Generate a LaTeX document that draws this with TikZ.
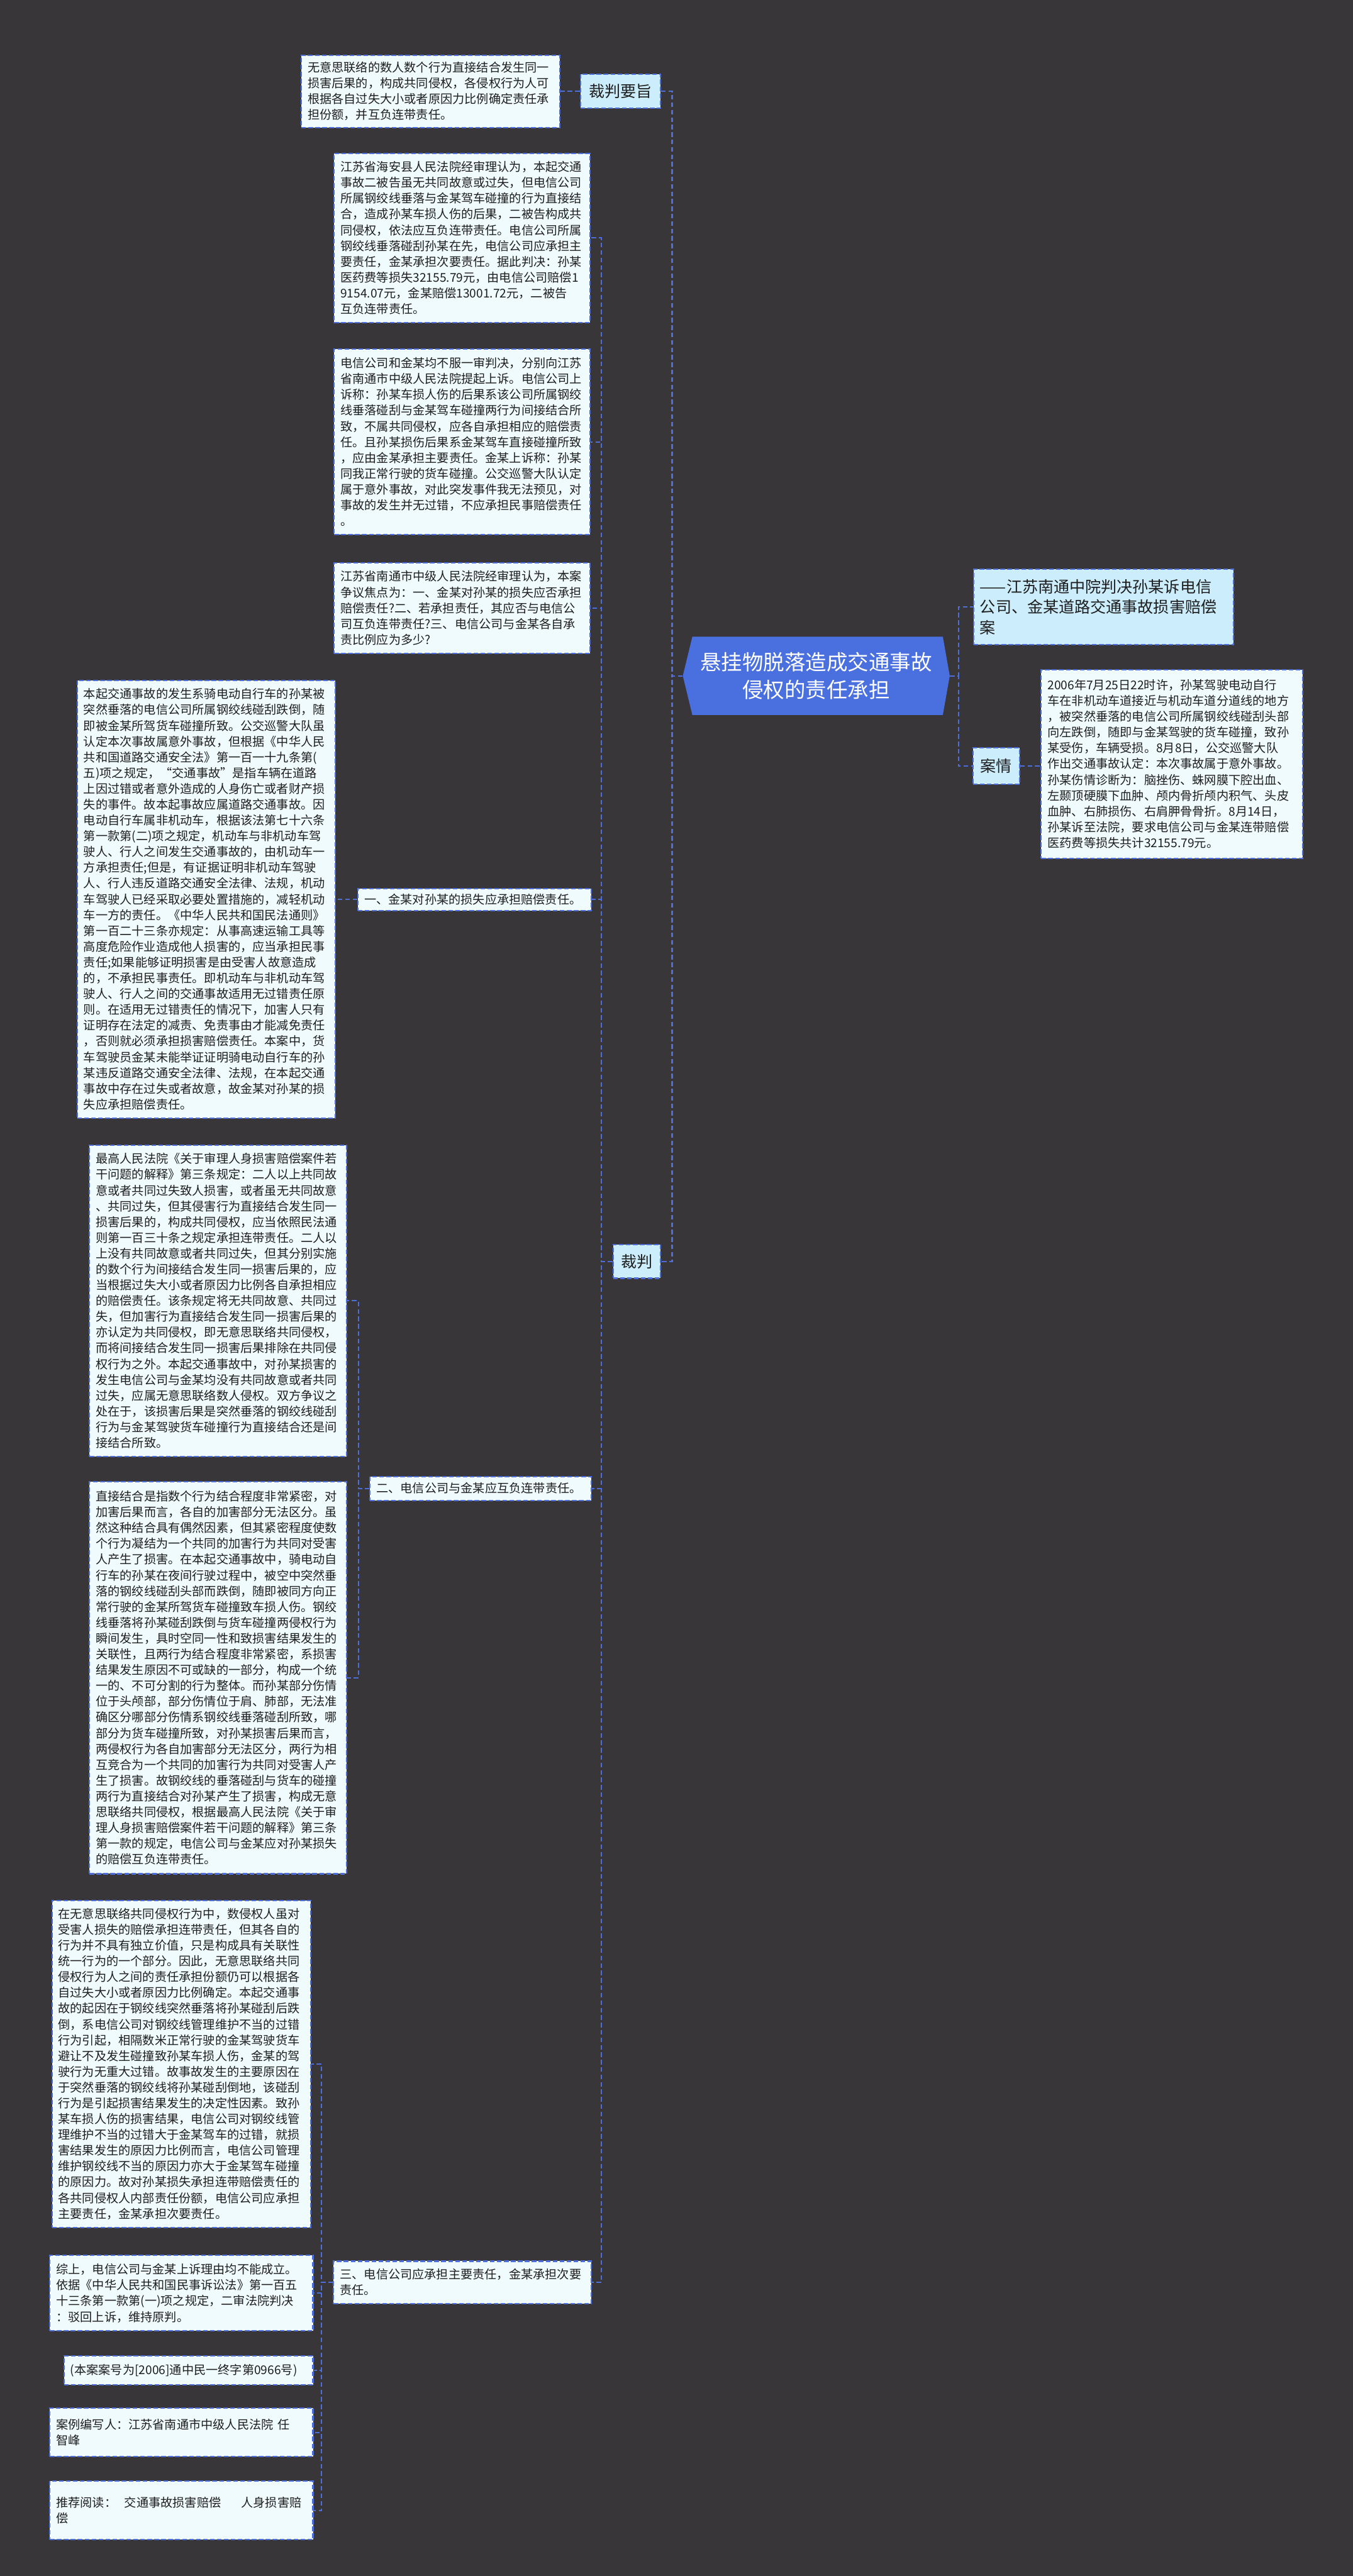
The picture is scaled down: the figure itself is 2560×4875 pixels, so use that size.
\documentclass[tikz,border=0pt]{standalone}
\usepackage{fontspec}
\setmainfont{Noto Sans CJK SC}
\definecolor{bgc}{RGB}{56,54,56}
\definecolor{lnc}{RGB}{78,110,218}
\definecolor{bxf}{RGB}{240,251,253}
\definecolor{lbf}{RGB}{204,237,252}
\definecolor{ctf}{RGB}{74,111,222}
\definecolor{txc}{RGB}{30,30,30}
\tikzset{
  tb/.style={draw=lnc, fill=bxf, line width=1.4pt, dash pattern=on 5pt off 2.5pt,
    inner xsep=0.24cm, inner ysep=0.1cm, align=left, anchor=north west,
    font=\fontsize{13pt}{17pt}\selectfont, text=txc},
  lb/.style={draw=lnc, fill=lbf, line width=1.4pt, dash pattern=on 5pt off 2.5pt,
    inner sep=0pt, font=\fontsize{17pt}{22pt}\selectfont, text=txc},
  conn/.style={draw=lnc, line width=1.4pt, dash pattern=on 5pt off 3pt}
}
\begin{document}
\begin{tikzpicture}[x=0.02cm,y=-0.02cm]
\useasboundingbox (0,0) rectangle (2560,4875);
\fill[bgc] (0,0) rectangle (2560,4875);

% central topic
\fill[ctf] (1292,1279) -- (1310,1205) -- (1784,1205) -- (1797,1279) -- (1784,1353) -- (1310,1353) -- cycle;
\node[minimum width=10.1cm, minimum height=2.96cm, inner sep=0pt, align=center, text=white,
  font=\fontsize{22.7pt}{29.5pt}\selectfont] (ct) at (1544.5,1279) {悬挂物脱落造成交通事故\\侵权的责任承担};

% right side
\node[lb, anchor=north west, align=left, text width=9.36cm, inner xsep=0.24cm, minimum height=2.86cm] (sub) at (1841,1076)
 {——江苏南通中院判决孙某诉电信\\公司、金某道路交通事故损害赔偿\\案};
\node[lb, minimum width=1.76cm, minimum height=1.38cm] (aq) at (1885,1450) {案情};
\node[tb, text width=9.42cm, minimum height=7.14cm] (cs) at (1969,1266)
 {2006年7月25日22时许，孙某驾驶电动自行\\车在非机动车道接近与机动车道分道线的地方\\，被突然垂落的电信公司所属钢绞线碰刮头部\\向左跌倒，随即与金某驾驶的货车碰撞，致孙\\某受伤，车辆受损。8月8日，公交巡警大队\\作出交通事故认定：本次事故属于意外事故。\\孙某伤情诊断为：脑挫伤、蛛网膜下腔出血、\\左颞顶硬膜下血肿、颅内骨折颅内积气、头皮\\血肿、右肺损伤、右肩胛骨骨折。8月14日，\\孙某诉至法院，要求电信公司与金某连带赔偿\\医药费等损失共计32155.79元。};

% left: 裁判要旨
\node[lb, minimum width=3.04cm, minimum height=1.3cm] (yz) at (1174,172.5) {裁判要旨};
\node[tb, text width=9.3cm, minimum height=2.74cm] (b1) at (569,103)
 {无意思联络的数人数个行为直接结合发生同一\\损害后果的，构成共同侵权，各侵权行为人可\\根据各自过失大小或者原因力比例确定责任承\\担份额，并互负连带责任。};

% left: 裁判
\node[lb, minimum width=1.8cm, minimum height=1.28cm] (cp) at (1205,2387) {裁判};

\node[tb, text width=9.2cm, minimum height=6.4cm] (b2) at (631,289)
 {江苏省海安县人民法院经审理认为，本起交通\\事故二被告虽无共同故意或过失，但电信公司\\所属钢绞线垂落与金某驾车碰撞的行为直接结\\合，造成孙某车损人伤的后果，二被告构成共\\同侵权，依法应互负连带责任。电信公司所属\\钢绞线垂落碰刮孙某在先，电信公司应承担主\\要责任，金某承担次要责任。据此判决：孙某\\医药费等损失32155.79元，由电信公司赔偿1\\9154.07元，金某赔偿13001.72元，二被告\\互负连带责任。};
\node[tb, text width=9.2cm, minimum height=7.04cm] (b3) at (631,659)
 {电信公司和金某均不服一审判决，分别向江苏\\省南通市中级人民法院提起上诉。电信公司上\\诉称：孙某车损人伤的后果系该公司所属钢绞\\线垂落碰刮与金某驾车碰撞两行为间接结合所\\致，不属共同侵权，应各自承担相应的赔偿责\\任。且孙某损伤后果系金某驾车直接碰撞所致\\，应由金某承担主要责任。金某上诉称：孙某\\同我正常行驶的货车碰撞。公交巡警大队认定\\属于意外事故，对此突发事件我无法预见，对\\事故的发生并无过错，不应承担民事赔偿责任\\。};
\node[tb, text width=9.2cm, minimum height=3.42cm] (b4) at (631,1064)
 {江苏省南通市中级人民法院经审理认为，本案\\争议焦点为：一、金某对孙某的损失应否承担\\赔偿责任?二、若承担责任，其应否与电信公\\司互负连带责任?三、电信公司与金某各自承\\责比例应为多少?};

\node[tb, text width=8.36cm, minimum height=0.84cm] (l1) at (676,1680) {一、金某对孙某的损失应承担赔偿责任。};
\node[tb, text width=7.9cm, minimum height=0.9cm] (l2) at (699,2793) {二、电信公司与金某应互负连带责任。};
\node[tb, text width=9.28cm, minimum height=1.6cm] (l3) at (630,4278) {三、电信公司应承担主要责任，金某承担次要\\责任。};

\node[tb, text width=9.28cm, minimum height=16.58cm] (b6) at (145,1286)
 {本起交通事故的发生系骑电动自行车的孙某被\\突然垂落的电信公司所属钢绞线碰刮跌倒，随\\即被金某所驾货车碰撞所致。公交巡警大队虽\\认定本次事故属意外事故，但根据《中华人民\\共和国道路交通安全法》第一百一十九条第(\\五)项之规定，“交通事故”是指车辆在道路\\上因过错或者意外造成的人身伤亡或者财产损\\失的事件。故本起事故应属道路交通事故。因\\电动自行车属非机动车，根据该法第七十六条\\第一款第(二)项之规定，机动车与非机动车驾\\驶人、行人之间发生交通事故的，由机动车一\\方承担责任;但是，有证据证明非机动车驾驶\\人、行人违反道路交通安全法律、法规，机动\\车驾驶人已经采取必要处置措施的，减轻机动\\车一方的责任。《中华人民共和国民法通则》\\第一百二十三条亦规定：从事高速运输工具等\\高度危险作业造成他人损害的，应当承担民事\\责任;如果能够证明损害是由受害人故意造成\\的，不承担民事责任。即机动车与非机动车驾\\驶人、行人之间的交通事故适用无过错责任原\\则。在适用无过错责任的情况下，加害人只有\\证明存在法定的减责、免责事由才能减免责任\\，否则就必须承担损害赔偿责任。本案中，货\\车驾驶员金某未能举证证明骑电动自行车的孙\\某违反道路交通安全法律、法规，在本起交通\\事故中存在过失或者故意，故金某对孙某的损\\失应承担赔偿责任。};

\node[tb, text width=9.26cm, minimum height=11.78cm] (b7) at (168,2166)
 {最高人民法院《关于审理人身损害赔偿案件若\\干问题的解释》第三条规定：二人以上共同故\\意或者共同过失致人损害，或者虽无共同故意\\、共同过失，但其侵害行为直接结合发生同一\\损害后果的，构成共同侵权，应当依照民法通\\则第一百三十条之规定承担连带责任。二人以\\上没有共同故意或者共同过失，但其分别实施\\的数个行为间接结合发生同一损害后果的，应\\当根据过失大小或者原因力比例各自承担相应\\的赔偿责任。该条规定将无共同故意、共同过\\失，但加害行为直接结合发生同一损害后果的\\亦认定为共同侵权，即无意思联络共同侵权，\\而将间接结合发生同一损害后果排除在共同侵\\权行为之外。本起交通事故中，对孙某损害的\\发生电信公司与金某均没有共同故意或者共同\\过失，应属无意思联络数人侵权。双方争议之\\处在于，该损害后果是突然垂落的钢绞线碰刮\\行为与金某驾驶货车碰撞行为直接结合还是间\\接结合所致。};

\node[tb, text width=9.26cm, minimum height=14.84cm] (b8) at (168,2803)
 {直接结合是指数个行为结合程度非常紧密，对\\加害后果而言，各自的加害部分无法区分。虽\\然这种结合具有偶然因素，但其紧密程度使数\\个行为凝结为一个共同的加害行为共同对受害\\人产生了损害。在本起交通事故中，骑电动自\\行车的孙某在夜间行驶过程中，被空中突然垂\\落的钢绞线碰刮头部而跌倒，随即被同方向正\\常行驶的金某所驾货车碰撞致车损人伤。钢绞\\线垂落将孙某碰刮跌倒与货车碰撞两侵权行为\\瞬间发生，具时空同一性和致损害结果发生的\\关联性，且两行为结合程度非常紧密，系损害\\结果发生原因不可或缺的一部分，构成一个统\\一的、不可分割的行为整体。而孙某部分伤情\\位于头颅部，部分伤情位于肩、肺部，无法准\\确区分哪部分伤情系钢绞线垂落碰刮所致，哪\\部分为货车碰撞所致，对孙某损害后果而言，\\两侵权行为各自加害部分无法区分，两行为相\\互竞合为一个共同的加害行为共同对受害人产\\生了损害。故钢绞线的垂落碰刮与货车的碰撞\\两行为直接结合对孙某产生了损害，构成无意\\思联络共同侵权，根据最高人民法院《关于审\\理人身损害赔偿案件若干问题的解释》第三条\\第一款的规定，电信公司与金某应对孙某损失\\的赔偿互负连带责任。};

\node[tb, text width=9.32cm, minimum height=12.38cm] (b9) at (97,3595)
 {在无意思联络共同侵权行为中，数侵权人虽对\\受害人损失的赔偿承担连带责任，但其各自的\\行为并不具有独立价值，只是构成具有关联性\\统一行为的一个部分。因此，无意思联络共同\\侵权行为人之间的责任承担份额仍可以根据各\\自过失大小或者原因力比例确定。本起交通事\\故的起因在于钢绞线突然垂落将孙某碰刮后跌\\倒，系电信公司对钢绞线管理维护不当的过错\\行为引起，相隔数米正常行驶的金某驾驶货车\\避让不及发生碰撞致孙某车损人伤，金某的驾\\驶行为无重大过错。故事故发生的主要原因在\\于突然垂落的钢绞线将孙某碰刮倒地，该碰刮\\行为是引起损害结果发生的决定性因素。致孙\\某车损人伤的损害结果，电信公司对钢绞线管\\理维护不当的过错大于金某驾车的过错，就损\\害结果发生的原因力比例而言，电信公司管理\\维护钢绞线不当的原因力亦大于金某驾车碰撞\\的原因力。故对孙某损失承担连带赔偿责任的\\各共同侵权人内部责任份额，电信公司应承担\\主要责任，金某承担次要责任。};

\node[tb, text width=9.48cm, minimum height=2.86cm] (b10) at (93,4267)
 {综上，电信公司与金某上诉理由均不能成立。\\依据《中华人民共和国民事诉讼法》第一百五\\十三条第一款第(一)项之规定，二审法院判决\\：驳回上诉，维持原判。};
\node[tb, text width=8.94cm, minimum height=1.1cm] (b11) at (120,4457)
 {(本案案号为[2006]通中民一终字第0966号)};
\node[tb, text width=9.48cm, minimum height=1.84cm] (b12) at (93,4556)
 {案例编写人：江苏省南通市中级人民法院 任\\智峰};
\node[tb, text width=9.48cm, minimum height=2.22cm] (b13) at (93,4694)
 {推荐阅读：\ \ 交通事故损害赔偿\ \ \ \ \ 人身损害赔\\偿};

% connectors
\draw[conn] (ct.west) -- ++(-20,0) |- (yz.east);
\draw[conn] (ct.west) -- ++(-20,0) |- (cp.east);
\draw[conn] (yz.west) -- (yz.west -| b1.east);
\draw[conn] (ct.east) -- ++(16,0) |- (sub.west);
\draw[conn] (ct.east) -- ++(16,0) |- (aq.west);
\draw[conn] (aq.east) -- (aq.east -| cs.west);
\foreach \c in {b2,b3,b4,l1,l2,l3}
  \draw[conn] (cp.west) -- ++(-21,0) |- (\c.east);
\draw[conn] (l1.west) -- (l1.west -| b6.east);
\foreach \c in {b7,b8}
  \draw[conn] (l2.west) -- ++(-21,0) |- (\c.east);
\foreach \c in {b9,b10,b11,b12,b13}
  \draw[conn] (l3.west) -- ++(-22,0) |- (\c.east);
\end{tikzpicture}
\end{document}
